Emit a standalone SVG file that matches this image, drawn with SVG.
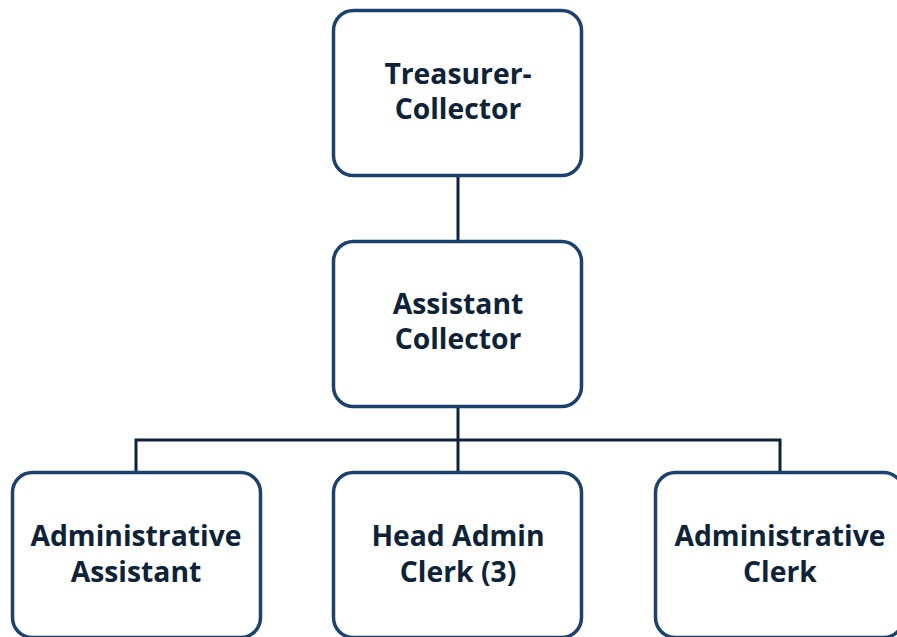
<svg xmlns="http://www.w3.org/2000/svg" width="897" height="637" viewBox="0 0 897 637">
<style>
.box{fill:#ffffff;stroke:#1c416f;stroke-width:3.5}
.lbl{font-family:"Open Sans","Liberation Sans",sans-serif;font-weight:700;font-size:28.3px;fill:#0e2238;text-anchor:middle}
.conn{fill:none;stroke:#0e2238;stroke-width:3}
</style>
<rect width="897" height="637" fill="#ffffff"/>
<g id="connectors">
<line class="conn" x1="458" y1="175" x2="458" y2="241"/>
<line class="conn" x1="458" y1="407" x2="458" y2="472"/>
<polyline class="conn" points="136,472 136,440 780,440 780,472"/>
</g>
<g id="treasurer">
<rect class="box" x="333.5" y="10.5" width="248" height="165" rx="20"/>
<text class="lbl" x="458" y="84">Treasurer-</text>
<text class="lbl" x="458" y="119">Collector</text>
</g>
<g id="assistant-collector">
<rect class="box" x="333.5" y="241.5" width="248" height="165" rx="20"/>
<text class="lbl" x="458" y="314">Assistant</text>
<text class="lbl" x="458" y="349">Collector</text>
</g>
<g id="admin-assistant">
<rect class="box" x="12.5" y="472.5" width="248" height="165" rx="20"/>
<text class="lbl" x="136" y="546">Administrative</text>
<text class="lbl" x="136" y="582">Assistant</text>
</g>
<g id="head-admin-clerk">
<rect class="box" x="333.5" y="472.5" width="248" height="165" rx="20"/>
<text class="lbl" x="458" y="546">Head Admin</text>
<text class="lbl" x="458" y="582">Clerk (3)</text>
</g>
<g id="admin-clerk">
<rect class="box" x="655.5" y="472.5" width="248" height="165" rx="20"/>
<text class="lbl" x="780" y="546">Administrative</text>
<text class="lbl" x="780" y="582">Clerk</text>
</g>
</svg>
